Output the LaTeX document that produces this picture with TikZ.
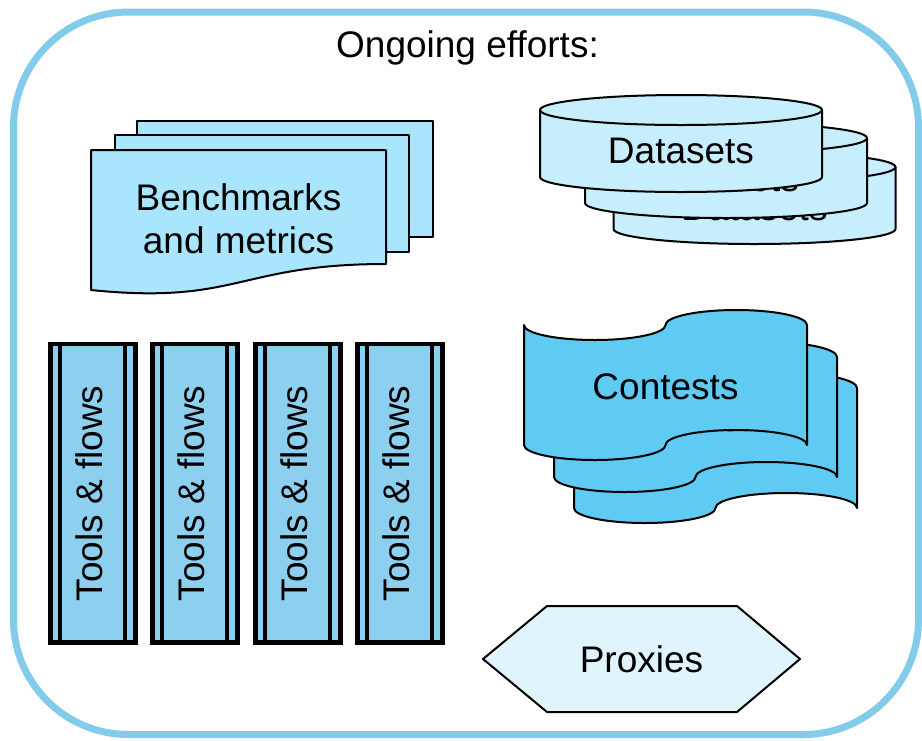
\documentclass[tikz,border=0pt]{standalone}
\usepackage{fontspec}
\setmainfont{Liberation Sans}
\definecolor{outerc}{HTML}{83CBEB}
\definecolor{benchc}{HTML}{A9E5FC}
\definecolor{dsc}{HTML}{C7EEFD}
\definecolor{contc}{HTML}{5FCAF2}
\definecolor{toolc}{HTML}{8DCFEE}
\definecolor{proxc}{HTML}{E0F4FC}
\begin{document}
\begin{tikzpicture}[x=1pt,y=-1pt,
  font=\fontsize{37}{43}\selectfont,
  shp/.style={draw=black, line width=2pt, line join=round},
  toolshp/.style={draw=black, line width=4.3pt, line join=miter},
  lbl/.style={inner sep=0pt, anchor=base}]
\useasboundingbox (0,0) rectangle (922,740);
% outer frame
\draw[draw=outerc, line width=7pt, rounded corners=115pt] (13.5,12) rectangle (918.5,734.5);
\node[lbl] (title) at (467.5,57) {Ongoing efforts:};
% Benchmarks (multi-document)
\filldraw[shp, fill=benchc] (137,121) rectangle (433,237);
\filldraw[shp, fill=benchc] (115,135) rectangle (409,252);
\filldraw[shp, fill=benchc] (91,150) -- (386,150) -- (386,264)
   .. controls (238,264) and (238,305) .. (91,290) -- cycle;
\node[lbl] (bench1) at (238.5,210) {Benchmarks};
\node[lbl] (bench2) at (238.5,253) {and metrics};
% Datasets (stacked cylinders)
\foreach \cx/\cy/\h/\n in {754.5/167/62/3, 726/138/65/2, 681/110/67/1}{
  \filldraw[shp, fill=dsc] (\cx-141,\cy) -- (\cx-141,\cy+\h)
     arc[start angle=180,end angle=0,x radius=141,y radius=15]
     -- (\cx+141,\cy)
     arc[start angle=0,end angle=-180,x radius=141,y radius=15] -- cycle;
  \draw[shp] (\cx-141,\cy) arc[start angle=180,end angle=0,x radius=141,y radius=15];
  \node[lbl] (ds\n) at (\cx,\cy+53) {Datasets};
}
% Tools & flows
\foreach \x [count=\i] in {50.5,152.5,255.5,357.5}{
  \filldraw[toolshp, fill=toolc] (\x,344) rectangle (\x+85,642.5);
  \draw[toolshp] (\x+9.5,344) -- (\x+9.5,642.5);
  \draw[toolshp] (\x+74.5,344) -- (\x+74.5,642.5);
  \node[lbl, rotate=90] (tool\i) at (\x+51.5,493.5) {Tools \& flows};
}
% Contests (punched tape stack)
\foreach \dx/\dy/\n in {50/63/3, 30/32/2, 0/0/1}{
  \filldraw[shp, fill=contc] (524+\dx,325+\dy)
     arc[start angle=180,end angle=0,x radius=70.75,y radius=15]
     arc[start angle=180,end angle=360,x radius=70.75,y radius=15]
     -- (807+\dx,445+\dy)
     arc[start angle=0,end angle=-180,x radius=70.75,y radius=15]
     arc[start angle=0,end angle=180,x radius=70.75,y radius=15]
     -- cycle;
  \node[lbl] (cont\n) at (665.5+\dx,399+\dy) {Contests};
}
% Proxies hexagon
\filldraw[shp, fill=proxc] (483,659) -- (547,606) -- (737,606) -- (800,659)
   -- (737,712) -- (547,712) -- cycle;
\node[lbl] (prox) at (641.5,672) {Proxies};
\end{tikzpicture}
\end{document}
